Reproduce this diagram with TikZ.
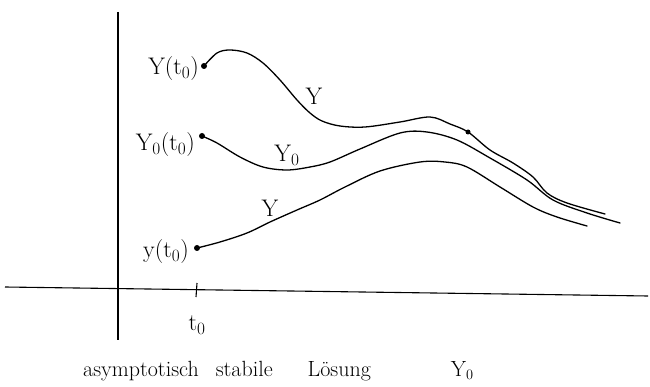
\documentclass[tikz,border=0pt]{standalone}
\begin{document}
\begin{tikzpicture}[x=1pt,y=-1pt,
  curve/.style={line width=1.3pt,line cap=round,line join=round},
  axis/.style={line width=1.1pt},
  dotnode/.style={circle,fill=black,inner sep=0pt,minimum size=6pt},
  lbl/.style={font=\fontsize{24}{26}\selectfont,inner sep=1pt},
  captiontext/.style={font=\fontsize{22}{24}\selectfont,inner sep=0pt}]
\useasboundingbox (0,0) rectangle (650,387);
% axes
\coordinate (vtop) at (118,12);
\coordinate (vbot) at (118,340);
\draw[axis] (vtop) -- (vbot);
\coordinate (hl) at (5,287);
\coordinate (hr) at (648,296);
\draw[axis] (hl) -- (hr);
\coordinate (tickt) at (197,283);
\coordinate (tickb) at (196,297);
\draw[axis] (tickt) -- (tickb);
\node[lbl] (t0) at (197,325) {t$_0$};
% start dots
\node[dotnode] (p1) at (204,66) {};
\node[dotnode] (p2) at (202,136) {};
\node[dotnode] (p3) at (197,248) {};
\node[dotnode,minimum size=5pt] (p4) at (468,132) {};
% labels at the start points
\node[lbl,anchor=east] (l1) at (200,69) {Y(t$_0$)};
\node[lbl,anchor=east] (l2) at (196,145) {Y$_0$(t$_0$)};
\node[lbl,anchor=east] (l3) at (190,252) {y(t$_0$)};
% curves
\draw[curve] plot[smooth,tension=0.55] coordinates {(p1) (217,53) (230,50) (247,53) (263,63) (280,80) (297,100) (310,113) (322,121) (340,126) (365,127) (400,122) (430,117) (450,124) (p4) (490,150) (513,163) (533,177) (547,193) (567,203) (605,214)};
\draw[curve] plot[smooth,tension=0.55] coordinates {(p2) (217,143) (240,157) (263,167) (287,170) (310,167) (330,162) (360,149) (400,133) (427,132) (457,140) (490,158) (527,180) (553,200) (587,213) (620,223)};
\draw[curve] plot[smooth,tension=0.55] coordinates {(p3) (220,242) (247,233) (270,222) (297,210) (320,200) (345,187) (380,171) (420,162) (445,162) (467,167) (500,187) (533,207) (557,217) (587,226)};
% curve labels
\node[lbl] (c1) at (314,96) {Y};
\node[lbl] (c2) at (287,155) {Y$_0$};
\node[lbl] (c3) at (270,208) {Y};
% caption
\node[captiontext,anchor=west] (caption) at (83,371) {asymptotisch\hspace{17pt}stabile\hspace{35pt}Lösung\hspace{80pt}Y$_0$};
\end{tikzpicture}
\end{document}
